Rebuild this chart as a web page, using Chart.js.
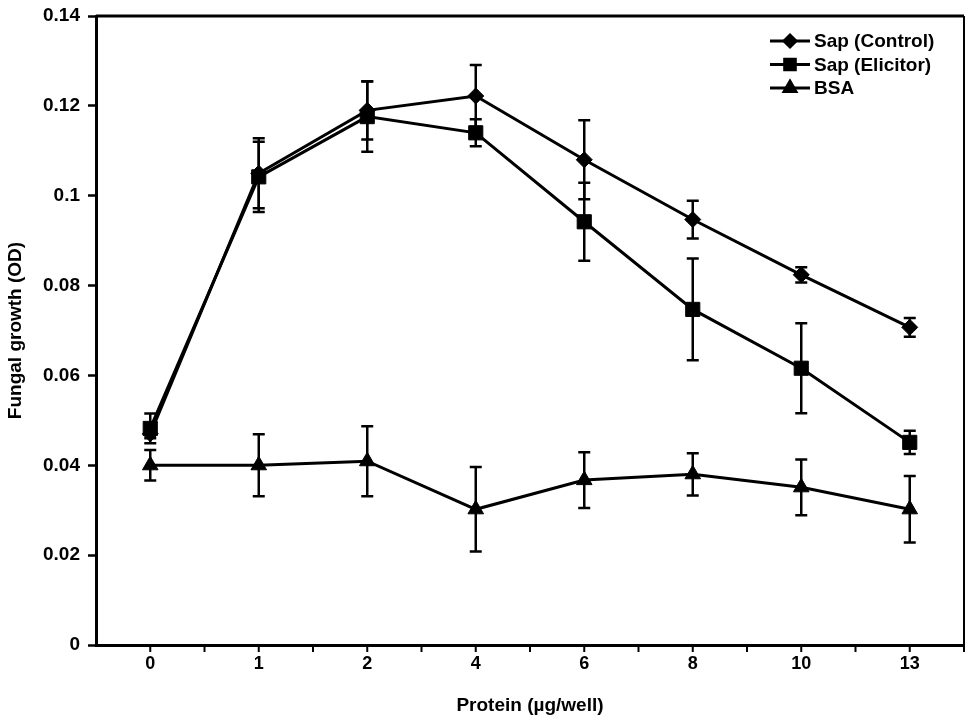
<!DOCTYPE html>
<html>
<head>
<meta charset="utf-8">
<script src="https://cdn.jsdelivr.net/npm/chart.js@4"></script>
<style>
    body { margin: 0; background: #fff; }
    #wrap { width: 975px; height: 724px; }
</style>
</head>
<body>
<div id="wrap"><canvas id="chart" width="975" height="724"></canvas></div>
<script>
// Chart data
const doses = ['0', '1', '2', '4', '6', '8', '10', '13'];
const controlValues = [0.047, 0.105, 0.119, 0.1222, 0.108, 0.0947, 0.0824, 0.0707];
const controlErrors = [0.001, 0.0078, 0.0065, 0.0069, 0.0088, 0.0042, 0.0017, 0.0021];
const elicitorValues = [0.0482, 0.1042, 0.1176, 0.114, 0.0942, 0.0747, 0.0616, 0.0451];
const elicitorErrors = [0.0033, 0.0078, 0.0078, 0.003, 0.0087, 0.0113, 0.01, 0.0026];
const bsaValues = [0.040, 0.040, 0.0409, 0.0302, 0.0367, 0.038, 0.0351, 0.0302];
const bsaErrors = [0.0034, 0.0069, 0.0078, 0.0094, 0.0062, 0.0047, 0.0062, 0.0074];
const yTicks = [0, 0.02, 0.04, 0.06, 0.08, 0.1, 0.12, 0.14];

const font = 'Liberation Sans, Arial, sans-serif';

// Error bars, drawn from each dataset's errors array
const errorBars = {
    id: 'errorBars',
    beforeDatasetsDraw(chart) {
        const { ctx, scales: { x, y } } = chart;
        ctx.save();
        ctx.strokeStyle = '#000';
        ctx.lineWidth = 2.5;
        chart.data.datasets.forEach(ds => {
            ds.data.forEach((v, i) => {
                const px = x.getPixelForValue(i);
                const top = y.getPixelForValue(v + ds.errors[i]);
                const bot = y.getPixelForValue(v - ds.errors[i]);
                ctx.beginPath();
                ctx.moveTo(px, top); ctx.lineTo(px, bot);
                ctx.moveTo(px - 6, top); ctx.lineTo(px + 6, top);
                ctx.moveTo(px - 6, bot); ctx.lineTo(px + 6, bot);
                ctx.stroke();
            });
        });
        ctx.restore();
    }
};

// Frame on top/right and x tick marks at centres and boundaries
const frame = {
    id: 'frame',
    afterDraw(chart) {
        const { ctx, chartArea: a, scales: { x } } = chart;
        ctx.save();
        ctx.strokeStyle = '#000';
        ctx.lineWidth = 3;
        ctx.beginPath();
        ctx.moveTo(a.left, a.top); ctx.lineTo(a.right, a.top);
        ctx.stroke();
        ctx.lineWidth = 2;
        ctx.beginPath();
        ctx.moveTo(a.right, a.top); ctx.lineTo(a.right, a.bottom);
        ctx.stroke();
        ctx.lineWidth = 2;
        ctx.beginPath();
        for (let i = 0; i < doses.length; i++) {
            const c = x.getPixelForValue(i);
            ctx.moveTo(c, a.bottom); ctx.lineTo(c, a.bottom + 7);
            if (i < doses.length - 1) {
                const b = (c + x.getPixelForValue(i + 1)) / 2;
                ctx.moveTo(b, a.bottom); ctx.lineTo(b, a.bottom + 7);
            }
        }
        ctx.moveTo(a.right, a.bottom); ctx.lineTo(a.right, a.bottom + 7);
        ctx.stroke();
        ctx.restore();
    }
};

// Legend with line + marker sample
const lineLegend = {
    id: 'lineLegend',
    afterDraw(chart) {
        const { ctx } = chart;
        const x0 = 770, y0 = 41, rowH = 23.5;
        ctx.save();
        ctx.font = 'bold 19px ' + font;
        ctx.textBaseline = 'middle';
        ctx.fillStyle = '#000';
        chart.data.datasets.forEach((ds, i) => {
            const yy = y0 + i * rowH;
            ctx.strokeStyle = '#000';
            ctx.lineWidth = 3;
            ctx.beginPath();
            ctx.moveTo(x0, yy); ctx.lineTo(x0 + 40, yy);
            ctx.stroke();
            Chart.helpers.drawPoint(ctx, {
                pointStyle: ds.pointStyle, radius: ds.pointRadius * 0.75, rotation: 0,
                borderWidth: 1
            }, x0 + 20, yy);
            ctx.fillText(ds.label, x0 + 44, yy + 1);
        });
        ctx.restore();
    }
};

const series = (label, data, errors, style, radius) => ({
    label: label,
    data: data,
    errors: errors,
    borderColor: '#000',
    backgroundColor: '#000',
    borderWidth: 3,
    pointStyle: style,
    pointRadius: radius,
    pointBorderWidth: 1,
    pointBackgroundColor: '#000',
    pointBorderColor: '#000',
    tension: 0
});

new Chart(document.getElementById('chart'), {
    type: 'line',
    data: {
        labels: doses,
        datasets: [
            series('Sap (Control)', controlValues, controlErrors, 'rectRot', 8),
            series('Sap (Elicitor)', elicitorValues, elicitorErrors, 'rect', 10),
            series('BSA', bsaValues, bsaErrors, 'triangle', 9)
        ]
    },
    options: {
        responsive: false,
        animation: false,
        layout: { padding: { top: 16, right: 8, left: 0, bottom: 0 } },
        plugins: {
            legend: { display: false },
            tooltip: { enabled: false }
        },
        scales: {
            x: {
                offset: true,
                grid: { display: false, drawTicks: false },
                border: { color: '#000', width: 3 },
                ticks: { color: '#000', padding: 8, font: { family: font, size: 18, weight: 'bold' } },
                title: {
                    display: true, text: 'Protein (µg/well)', color: '#000',
                    font: { family: font, size: 19, weight: 'bold' }, padding: { top: 12, bottom: 7 }
                },
                afterFit: s => { s.height = 79; }
            },
            y: {
                min: 0,
                max: 0.14,
                afterBuildTicks: s => { s.ticks = yTicks.map(v => ({ value: v })); },
                grid: { drawOnChartArea: false, color: '#000', tickLength: 8, tickWidth: 2.5 },
                border: { color: '#000', width: 3 },
                ticks: {
                    color: '#000', padding: 8,
                    font: { family: font, size: 19, weight: 'bold' },
                    callback: v => String(+v.toFixed(2))
                },
                title: {
                    display: true, text: 'Fungal growth (OD)', color: '#000',
                    font: { family: font, size: 19, weight: 'bold' }, padding: { top: 4, bottom: 6 }
                },
                afterFit: s => { s.width = 96; s.paddingTop = 0; }
            }
        }
    },
    plugins: [errorBars, frame, lineLegend]
});
</script>
</body>
</html>
